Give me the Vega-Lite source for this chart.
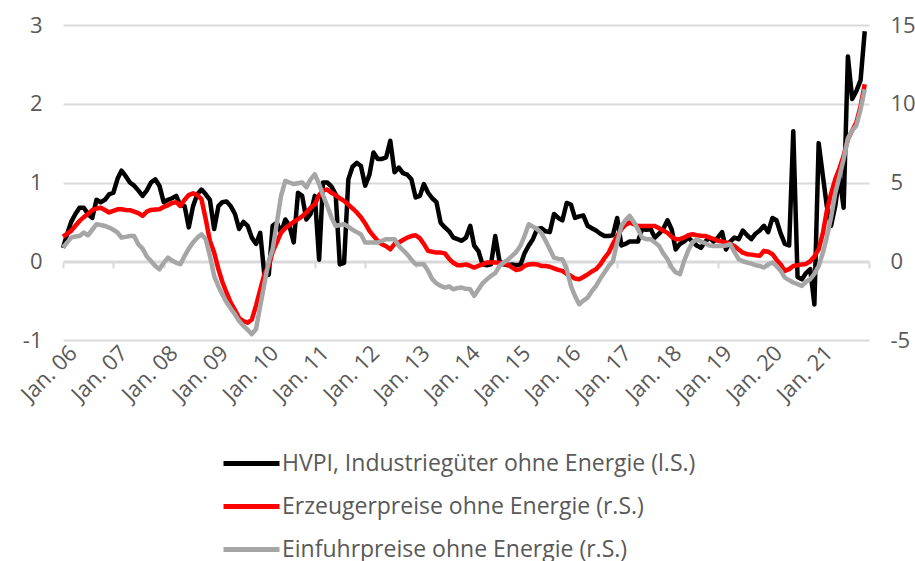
{
"$schema":"https://vega.github.io/schema/vega-lite/v6.json",
"width":806,"height":315,
"autosize":{"type":"none"},
"padding":{"left":63,"top":25,"right":46,"bottom":221},
"config":{"font":"Open Sans","view":{"stroke":null},"axis":{"labelColor":"#595959","labelFontSize":22,"domain":false,"ticks":false}},
"data":{"format":{"parse":{"m":"date:'%Y-%m'"}},"values":[
{"m":"2006-01","h":0.17,"e":1.57,"i":0.87},{"m":"2006-02","h":0.35,"e":1.75,"i":1.2},{"m":"2006-03","h":0.5,"e":1.93,"i":1.5},{"m":"2006-04","h":0.6,"e":2.25,"i":1.57},{"m":"2006-05","h":0.68,"e":2.56,"i":1.6},{"m":"2006-06","h":0.68,"e":2.8,"i":1.82},{"m":"2006-07","h":0.6,"e":3.0,"i":1.65},{"m":"2006-08","h":0.55,"e":3.25,"i":2.0},{"m":"2006-09","h":0.78,"e":3.35,"i":2.35},{"m":"2006-10","h":0.75,"e":3.4,"i":2.3},{"m":"2006-11","h":0.78,"e":3.25,"i":2.24},{"m":"2006-12","h":0.85,"e":3.1,"i":2.14},
{"m":"2007-01","h":0.87,"e":3.2,"i":2.0},{"m":"2007-02","h":1.05,"e":3.3,"i":1.82},{"m":"2007-03","h":1.15,"e":3.3,"i":1.5},{"m":"2007-04","h":1.08,"e":3.25,"i":1.55},{"m":"2007-05","h":1.0,"e":3.24,"i":1.6},{"m":"2007-06","h":0.96,"e":3.15,"i":1.61},{"m":"2007-07","h":0.9,"e":3.05,"i":1.08},{"m":"2007-08","h":0.83,"e":2.88,"i":0.8},{"m":"2007-09","h":0.9,"e":3.15,"i":0.3},{"m":"2007-10","h":1.0,"e":3.26,"i":0.02},{"m":"2007-11","h":1.04,"e":3.28,"i":-0.3},{"m":"2007-12","h":0.96,"e":3.3,"i":-0.51},
{"m":"2008-01","h":0.75,"e":3.45,"i":-0.1},{"m":"2008-02","h":0.78,"e":3.55,"i":0.23},{"m":"2008-03","h":0.8,"e":3.7,"i":0.05},{"m":"2008-04","h":0.83,"e":3.75,"i":-0.1},{"m":"2008-05","h":0.71,"e":3.51,"i":-0.19},{"m":"2008-06","h":0.7,"e":3.9,"i":0.34},{"m":"2008-07","h":0.43,"e":4.2,"i":0.8},{"m":"2008-08","h":0.7,"e":4.32,"i":1.19},{"m":"2008-09","h":0.85,"e":4.2,"i":1.5},{"m":"2008-10","h":0.91,"e":3.94,"i":1.71},{"m":"2008-11","h":0.85,"e":2.67,"i":1.4},{"m":"2008-12","h":0.78,"e":1.3,"i":0.34},
{"m":"2009-01","h":0.41,"e":0.55,"i":-0.93},{"m":"2009-02","h":0.7,"e":-0.5,"i":-1.6},{"m":"2009-03","h":0.75,"e":-1.3,"i":-2.1},{"m":"2009-04","h":0.76,"e":-2.0,"i":-2.6},{"m":"2009-05","h":0.7,"e":-2.62,"i":-3.0},{"m":"2009-06","h":0.6,"e":-3.1,"i":-3.37},{"m":"2009-07","h":0.41,"e":-3.6,"i":-3.8},{"m":"2009-08","h":0.5,"e":-3.8,"i":-4.1},{"m":"2009-09","h":0.45,"e":-3.9,"i":-4.35},{"m":"2009-10","h":0.3,"e":-3.7,"i":-4.63},{"m":"2009-11","h":0.22,"e":-2.8,"i":-4.3},{"m":"2009-12","h":0.36,"e":-1.8,"i":-2.84},
{"m":"2010-01","h":-0.19,"e":-0.8,"i":-1.4},{"m":"2010-02","h":-0.17,"e":-0.3,"i":0.0},{"m":"2010-03","h":0.45,"e":0.6,"i":0.76},{"m":"2010-04","h":0.49,"e":1.2,"i":2.46},{"m":"2010-05","h":0.36,"e":1.82,"i":4.15},{"m":"2010-06","h":0.53,"e":2.1,"i":5.1},{"m":"2010-07","h":0.45,"e":2.3,"i":5.0},{"m":"2010-08","h":0.24,"e":2.5,"i":4.9},{"m":"2010-09","h":0.87,"e":2.67,"i":4.95},{"m":"2010-10","h":0.83,"e":2.85,"i":5.0},{"m":"2010-11","h":0.53,"e":3.1,"i":4.7},{"m":"2010-12","h":0.6,"e":3.4,"i":5.2},
{"m":"2011-01","h":0.83,"e":3.62,"i":5.52},{"m":"2011-02","h":0.02,"e":4.2,"i":4.9},{"m":"2011-03","h":1.0,"e":4.5,"i":4.2},{"m":"2011-04","h":1.0,"e":4.55,"i":3.51},{"m":"2011-05","h":0.95,"e":4.35,"i":2.8},{"m":"2011-06","h":0.85,"e":4.2,"i":2.24},{"m":"2011-07","h":-0.04,"e":4.0,"i":2.3},{"m":"2011-08","h":-0.02,"e":3.83,"i":2.35},{"m":"2011-09","h":1.04,"e":3.6,"i":2.2},{"m":"2011-10","h":1.2,"e":3.35,"i":2.0},{"m":"2011-11","h":1.25,"e":3.1,"i":1.85},{"m":"2011-12","h":1.21,"e":2.8,"i":1.71},
{"m":"2012-01","h":0.96,"e":2.4,"i":1.19},{"m":"2012-02","h":1.1,"e":1.93,"i":1.19},{"m":"2012-03","h":1.38,"e":1.61,"i":1.19},{"m":"2012-04","h":1.3,"e":1.3,"i":1.19},{"m":"2012-05","h":1.3,"e":1.08,"i":1.3},{"m":"2012-06","h":1.32,"e":0.95,"i":1.4},{"m":"2012-07","h":1.53,"e":0.76,"i":1.4},{"m":"2012-08","h":1.13,"e":1.1,"i":1.4},{"m":"2012-09","h":1.19,"e":1.19,"i":0.97},{"m":"2012-10","h":1.12,"e":1.35,"i":0.7},{"m":"2012-11","h":1.1,"e":1.5,"i":0.44},{"m":"2012-12","h":1.04,"e":1.6,"i":0.1},
{"m":"2013-01","h":0.81,"e":1.65,"i":-0.19},{"m":"2013-02","h":0.83,"e":1.45,"i":-0.19},{"m":"2013-03","h":0.98,"e":1.1,"i":-0.19},{"m":"2013-04","h":0.87,"e":0.66,"i":-0.6},{"m":"2013-05","h":0.8,"e":0.6,"i":-1.14},{"m":"2013-06","h":0.75,"e":0.55,"i":-1.4},{"m":"2013-07","h":0.49,"e":0.55,"i":-1.57},{"m":"2013-08","h":0.43,"e":0.5,"i":-1.67},{"m":"2013-09","h":0.38,"e":0.15,"i":-1.6},{"m":"2013-10","h":0.3,"e":-0.1,"i":-1.78},{"m":"2013-11","h":0.28,"e":-0.25,"i":-1.7},{"m":"2013-12","h":0.26,"e":-0.25,"i":-1.67},
{"m":"2014-01","h":0.3,"e":-0.2,"i":-1.75},{"m":"2014-02","h":0.45,"e":-0.3,"i":-1.78},{"m":"2014-03","h":0.2,"e":-0.4,"i":-2.2},{"m":"2014-04","h":0.13,"e":-0.3,"i":-1.8},{"m":"2014-05","h":-0.04,"e":-0.2,"i":-1.4},{"m":"2014-06","h":-0.05,"e":-0.08,"i":-1.15},{"m":"2014-07","h":-0.04,"e":-0.08,"i":-0.93},{"m":"2014-08","h":0.32,"e":-0.08,"i":-0.75},{"m":"2014-09","h":0.0,"e":-0.1,"i":-0.3},{"m":"2014-10","h":-0.04,"e":-0.17,"i":-0.08},{"m":"2014-11","h":-0.05,"e":-0.2,"i":0.1},{"m":"2014-12","h":-0.04,"e":-0.4,"i":0.34},
{"m":"2015-01","h":-0.05,"e":-0.55,"i":0.6},{"m":"2015-02","h":-0.04,"e":-0.5,"i":1.0},{"m":"2015-03","h":0.1,"e":-0.3,"i":1.6},{"m":"2015-04","h":0.2,"e":-0.2,"i":2.35},{"m":"2015-05","h":0.28,"e":-0.17,"i":2.2},{"m":"2015-06","h":0.41,"e":-0.2,"i":2.03},{"m":"2015-07","h":0.42,"e":-0.3,"i":1.8},{"m":"2015-08","h":0.38,"e":-0.3,"i":1.3},{"m":"2015-09","h":0.37,"e":-0.35,"i":0.76},{"m":"2015-10","h":0.6,"e":-0.45,"i":0.23},{"m":"2015-11","h":0.55,"e":-0.55,"i":0.15},{"m":"2015-12","h":0.52,"e":-0.61,"i":0.13},
{"m":"2016-01","h":0.74,"e":-0.8,"i":-0.5},{"m":"2016-02","h":0.72,"e":-0.93,"i":-1.57},{"m":"2016-03","h":0.55,"e":-1.1,"i":-2.2},{"m":"2016-04","h":0.57,"e":-1.14,"i":-2.73},{"m":"2016-05","h":0.58,"e":-1.0,"i":-2.5},{"m":"2016-06","h":0.45,"e":-0.83,"i":-2.31},{"m":"2016-07","h":0.42,"e":-0.65,"i":-1.9},{"m":"2016-08","h":0.39,"e":-0.5,"i":-1.57},{"m":"2016-09","h":0.35,"e":-0.2,"i":-1.1},{"m":"2016-10","h":0.32,"e":0.2,"i":-0.72},{"m":"2016-11","h":0.32,"e":0.55,"i":-0.3},{"m":"2016-12","h":0.33,"e":1.1,"i":0.0},
{"m":"2017-01","h":0.55,"e":1.6,"i":1.19},{"m":"2017-02","h":0.2,"e":2.03,"i":2.24},{"m":"2017-03","h":0.22,"e":2.3,"i":2.6},{"m":"2017-04","h":0.25,"e":2.46,"i":2.88},{"m":"2017-05","h":0.25,"e":2.35,"i":2.5},{"m":"2017-06","h":0.25,"e":2.24,"i":2.03},{"m":"2017-07","h":0.41,"e":2.24,"i":1.5},{"m":"2017-08","h":0.4,"e":2.24,"i":1.4},{"m":"2017-09","h":0.41,"e":2.24,"i":1.4},{"m":"2017-10","h":0.3,"e":2.24,"i":1.2},{"m":"2017-11","h":0.35,"e":2.1,"i":0.97},{"m":"2017-12","h":0.41,"e":1.95,"i":0.5},
{"m":"2018-01","h":0.52,"e":1.8,"i":0.13},{"m":"2018-02","h":0.4,"e":1.55,"i":-0.4},{"m":"2018-03","h":0.15,"e":1.4,"i":-0.7},{"m":"2018-04","h":0.22,"e":1.4,"i":-0.83},{"m":"2018-05","h":0.25,"e":1.5,"i":0.0},{"m":"2018-06","h":0.3,"e":1.65,"i":0.7},{"m":"2018-07","h":0.25,"e":1.71,"i":1.2},{"m":"2018-08","h":0.2,"e":1.65,"i":1.4},{"m":"2018-09","h":0.17,"e":1.62,"i":1.25},{"m":"2018-10","h":0.25,"e":1.61,"i":1.15},{"m":"2018-11","h":0.3,"e":1.5,"i":1.0},{"m":"2018-12","h":0.25,"e":1.42,"i":0.97},
{"m":"2019-01","h":0.3,"e":1.3,"i":0.97},{"m":"2019-02","h":0.37,"e":1.25,"i":0.97},{"m":"2019-03","h":0.15,"e":1.19,"i":1.0},{"m":"2019-04","h":0.25,"e":1.1,"i":1.08},{"m":"2019-05","h":0.3,"e":0.97,"i":0.6},{"m":"2019-06","h":0.28,"e":0.75,"i":0.13},{"m":"2019-07","h":0.39,"e":0.55,"i":0.0},{"m":"2019-08","h":0.33,"e":0.45,"i":-0.08},{"m":"2019-09","h":0.28,"e":0.42,"i":-0.15},{"m":"2019-10","h":0.35,"e":0.38,"i":-0.25},{"m":"2019-11","h":0.39,"e":0.34,"i":-0.3},{"m":"2019-12","h":0.45,"e":0.66,"i":-0.4},
{"m":"2020-01","h":0.37,"e":0.6,"i":-0.2},{"m":"2020-02","h":0.55,"e":0.45,"i":-0.08},{"m":"2020-03","h":0.52,"e":0.1,"i":-0.3},{"m":"2020-04","h":0.35,"e":-0.2,"i":-0.61},{"m":"2020-05","h":0.22,"e":-0.61,"i":-1.04},{"m":"2020-06","h":0.2,"e":-0.5,"i":-1.2},{"m":"2020-07","h":1.65,"e":-0.3,"i":-1.35},{"m":"2020-08","h":-0.2,"e":-0.25,"i":-1.45},{"m":"2020-09","h":-0.23,"e":-0.2,"i":-1.57},{"m":"2020-10","h":-0.15,"e":-0.17,"i":-1.3},{"m":"2020-11","h":-0.1,"e":0.0,"i":-1.14},{"m":"2020-12","h":-0.55,"e":0.3,"i":-0.8},
{"m":"2021-01","h":1.5,"e":0.76,"i":-0.3},{"m":"2021-02","h":1.08,"e":1.8,"i":0.55},{"m":"2021-03","h":0.7,"e":3.2,"i":1.5},{"m":"2021-04","h":0.45,"e":4.3,"i":2.8},{"m":"2021-05","h":0.7,"e":5.2,"i":4.3},{"m":"2021-06","h":1.08,"e":5.9,"i":5.4},{"m":"2021-07","h":0.68,"e":6.7,"i":6.48},{"m":"2021-08","h":2.6,"e":7.75,"i":7.8},{"m":"2021-09","h":2.06,"e":8.3,"i":8.3},{"m":"2021-10","h":2.16,"e":8.8,"i":8.6},{"m":"2021-11","h":2.3,"e":9.86,"i":9.65},{"m":"2021-12","h":2.92,"e":11.24,"i":10.92}
]},
"transform":[{"fold":["h","e","i"],"as":["s","v"]}],
"encoding":{
 "x":{"field":"m","type":"temporal","title":null,
  "scale":{"domain":[{"year":2006,"month":1,"date":1},{"year":2022,"month":1,"date":1}]},
  "axis":{"tickCount":{"interval":"year","step":1},"labelExpr":"year(datum.value) > 2021 ? '' : timeFormat(datum.value, 'Jan. %y')","labelAngle":-45,"labelAlign":"right","labelBaseline":"top","labelPadding":74,"labelOffset":3,"offset":-78,"domain":true,"domainColor":"#d9d9d9","domainWidth":2,"ticks":true,"tickColor":"#d9d9d9","tickWidth":2,"tickSize":6,"grid":false,"labelOverlap":false,"labelFlush":false,"labelBound":false}},
 "color":{"field":"s","type":"nominal","scale":{"domain":["h","e","i"],"range":["#000000","#ff0000","#a6a6a6"]},
  "legend":{"orient":"none","legendX":158,"legendY":408,"direction":"vertical","title":null,"padding":0,"symbolType":"stroke","symbolSize":3136,"symbolStrokeWidth":5,"labelFontSize":23,"labelColor":"#595959","labelOffset":0,"labelLimit":700,"rowPadding":0,
   "labelExpr":"datum.label == 'h' ? 'HVPI, Industriegüter ohne Energie (l.S.)' : datum.label == 'e' ? 'Erzeugerpreise ohne Energie (r.S.)' : 'Einfuhrpreise ohne Energie (r.S.)'"}}
},
"layer":[
 {"transform":[{"filter":"datum.s == 'h'"}],"mark":{"type":"line","strokeWidth":4.5,"strokeJoin":"round"},
  "encoding":{"y":{"field":"v","type":"quantitative","title":null,"scale":{"domain":[-1,3],"nice":false},
   "axis":{"orient":"left","values":[-1,0,1,2,3],"labelExpr":"replace(datum.label, '−', '-')","grid":true,"gridColor":"#d9d9d9","gridWidth":2,"labelPadding":21}}}},
 {"transform":[{"filter":"datum.s != 'h'"}],"mark":{"type":"line","strokeWidth":4.5,"strokeJoin":"round"},
  "encoding":{"y":{"field":"v","type":"quantitative","title":null,"scale":{"domain":[-5,15],"nice":false},
   "axis":{"orient":"right","values":[-5,0,5,10,15],"labelExpr":"replace(datum.label, '−', '-')","grid":false,"labelPadding":21,"labelAlign":"left"}}}}
],
"resolve":{"scale":{"y":"independent"}}
}
